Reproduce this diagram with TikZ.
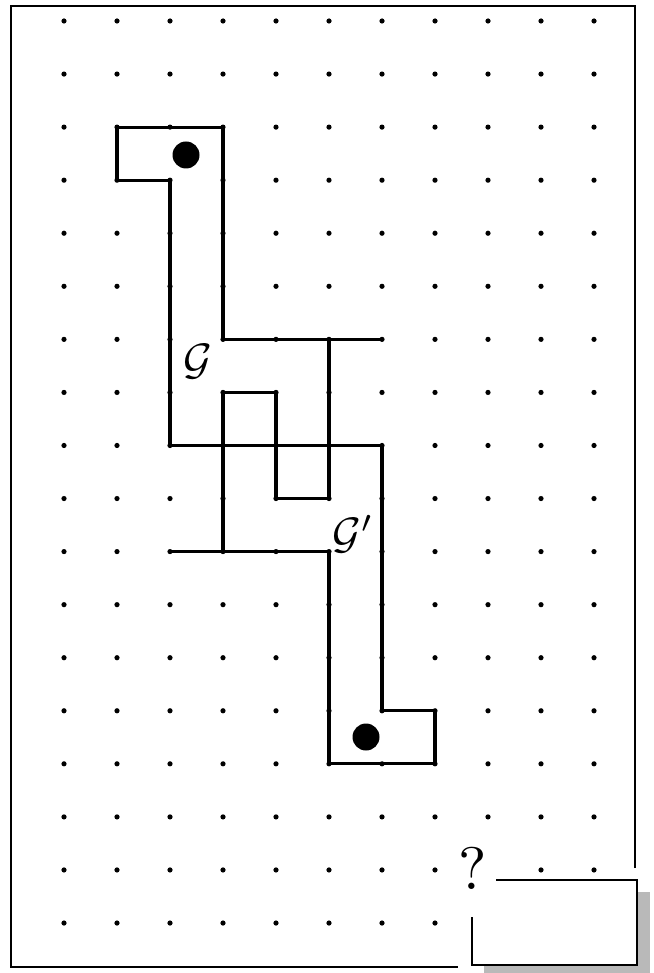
\documentclass[tikz,border=0pt]{standalone}
\begin{document}
\begin{tikzpicture}[x=1pt,y=-1pt,
  figline/.style={line width=3.2pt, line join=miter, line cap=rect},
  frameline/.style={line width=2.6pt},
  bigdot/.style={fill=black},
  lbl/.style={inner sep=0pt, scale=4.4},
]
\useasboundingbox (0,0) rectangle (653,973);
% outer frame
\draw[frameline] (635,868) -- (635,6) -- (11,6) -- (11,967) -- (458,967);
% dot grid and pieces
\begin{scope}[shift={(64,21)}, x=53pt, y=-53.06pt]
  \foreach \i in {0,...,10}{
    \foreach \j in {0,...,17}{
      \fill (\i,\j) circle[radius=2.6pt];
    }
  }
  \draw[figline] (6,6) -- (3,6) -- (3,2) -- (1,2) -- (1,3) -- (2,3) -- (2,8)
     -- (6,8) -- (6,13) -- (7,13) -- (7,14) -- (5,14) -- (5,10) -- (2,10);
  \draw[figline] (5,6) -- (5,9) -- (4,9) -- (4,7) -- (3,7) -- (3,10);
\end{scope}
\fill[bigdot] (186,155) circle[radius=13.5];
\fill[bigdot] (366,737) circle[radius=13.5];
\node[lbl] (g1) at (198,362) {$\mathcal{G}$};
\node[lbl] (g2) at (353,534) {$\mathcal{G}'$};
% answer box with shadow
\fill[gray!55] (484,892) rectangle (650,975);
\draw[fill=white, line width=1.4pt] (472,880) rectangle (637,965);
\node[fill=white, minimum width=48pt, minimum height=76pt, inner sep=0pt] (qbg) at (472,879) {};
\node[inner sep=0pt, scale=6] (q) at (473,868) {?};
\end{tikzpicture}
\end{document}
